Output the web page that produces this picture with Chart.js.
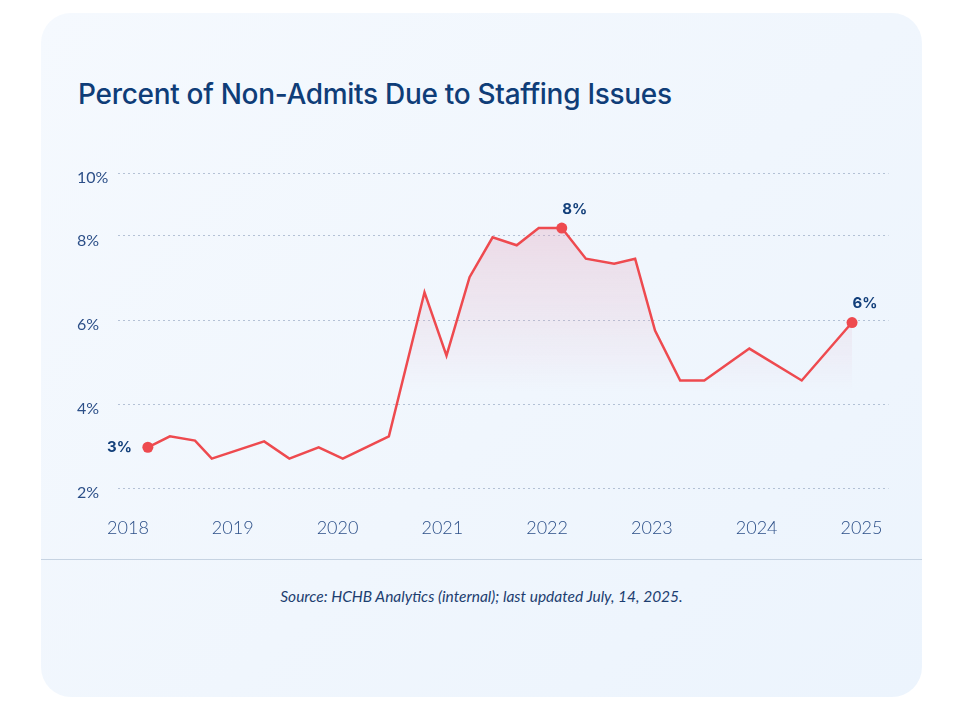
<!DOCTYPE html>
<html>
<head>
<meta charset="utf-8">
<script src="https://cdn.jsdelivr.net/npm/chart.js@4"></script>
<style>
  html, body { margin: 0; padding: 0; background: #ffffff; }
  body { width: 960px; height: 712px; position: relative; overflow: hidden; font-family: Lato, "Open Sans", sans-serif; }
  .card {
    position: absolute; left: 41px; top: 13px; width: 881px; height: 684px;
    border-radius: 30px;
    background: linear-gradient(135deg, #f5f9fe 0%, #f0f6fd 55%, #ecf4fd 100%);
  }
  .title {
    position: absolute; left: 78px; top: 77px; margin: 0;
    font-family: Inter, sans-serif;
    font-size: 28px; font-weight: 500; color: #0f3d78; letter-spacing: -0.3px;
  }
  .rule { position: absolute; left: 41px; top: 559px; width: 881px; height: 1px; background: #c6d3e2; }
  .source {
    position: absolute; left: 41px; width: 881px; top: 587px; text-align: center;
    font-size: 15.5px; font-style: italic; color: #1d3e70;
  }
  .wrap { position: absolute; left: 77px; top: 150px; width: 817px; height: 400px; }
</style>
</head>
<body>
<div class="card"></div>
<h1 class="title">Percent of Non-Admits Due to Staffing Issues</h1>
<div class="wrap"><canvas id="chart"></canvas></div>
<div class="rule"></div>
<div class="source">Source: HCHB Analytics (internal); last updated July, 14, 2025.</div>
<script>
// points along the timeline (fractional years) and their percent values
const periods = [2018.19, 2018.40, 2018.64, 2018.80, 2019.30, 2019.54, 2019.82, 2020.05,
  2020.49, 2020.83, 2021.04, 2021.26, 2021.48, 2021.71, 2021.92, 2022.14,
  2022.37, 2022.64, 2022.84, 2023.03, 2023.27, 2023.50, 2023.93, 2024.43, 2024.91];
const nonAdmitPct = [2.97, 3.23, 3.13, 2.70, 3.11, 2.70, 2.97, 2.70,
  3.23, 6.66, 5.15, 7.02, 7.97, 7.78, 8.19, 8.19,
  7.46, 7.34, 7.46, 5.75, 4.56, 4.56, 5.32, 4.56, 5.94];

const yearTicks = [2018, 2019, 2020, 2021, 2022, 2023, 2024, 2025];
const pctTickValues = [2, 4, 6, 8, 9.5];
const pctTickLabels = ['2%', '4%', '6%', '8%', '10%'];

// called-out points: index into the series and the text shown
const calloutIdx = [0, 15, 24];
const calloutText = ['3%', '8%', '6%'];

const RED = '#ee4a4f';
const NAVY = '#123f7a';

const calloutPlugin = {
  id: 'callouts',
  afterDatasetsDraw(chart) {
    const ctx = chart.ctx;
    const meta = chart.getDatasetMeta(0);
    ctx.save();
    ctx.font = '700 15px Inter, sans-serif';
    ctx.fillStyle = NAVY;
    ctx.textBaseline = 'middle';
    calloutIdx.forEach((idx, i) => {
      const pt = meta.data[idx];
      if (i === 0) {
        ctx.textAlign = 'right';
        ctx.fillText(calloutText[i], pt.x - 16, pt.y);
      } else {
        ctx.textAlign = 'center';
        ctx.fillText(calloutText[i], pt.x + 13, pt.y - 19);
      }
    });
    ctx.restore();
  }
};

new Chart(document.getElementById('chart'), {
  type: 'line',
  data: {
    datasets: [{
      data: periods.map((p, i) => ({ x: p, y: nonAdmitPct[i] })),
      borderColor: RED,
      borderWidth: 2.5,
      tension: 0,
      fill: 'start',
      backgroundColor(context) {
        const { chart } = context;
        const area = chart.chartArea;
        if (!area) return 'transparent';
        const yScale = chart.scales.y;
        const g = chart.ctx.createLinearGradient(0, yScale.getPixelForValue(8.2), 0, yScale.getPixelForValue(4.3));
        g.addColorStop(0, 'rgba(225, 160, 185, 0.32)');
        g.addColorStop(0.55, 'rgba(225, 160, 185, 0.16)');
        g.addColorStop(1, 'rgba(225, 160, 185, 0)');
        return g;
      },
      pointRadius: nonAdmitPct.map((_, i) => calloutIdx.includes(i) ? 5.5 : 0),
      pointBackgroundColor: RED,
      pointBorderWidth: 0,
      pointHoverRadius: 0
    }]
  },
  options: {
    responsive: true,
    maintainAspectRatio: false,
    animation: false,
    layout: { padding: { top: 23, right: 0, left: 0, bottom: 0 } },
    plugins: { legend: { display: false }, tooltip: { enabled: false } },
    scales: {
      x: {
        type: 'linear',
        min: 2017.905,
        max: 2025.258,
        afterBuildTicks(scale) { scale.ticks = yearTicks.map(v => ({ value: v })); },
        afterFit(scale) {
          scale.height = 62;
          scale.paddingLeft = 0;
          scale.paddingRight = 0;
        },
        grid: { display: false, drawTicks: false },
        border: { display: false },
        ticks: {
          padding: 29,
          color: '#2c4f88',
          font: { family: 'Lato, sans-serif', size: 18, weight: 300 },
          callback: v => String(v),
          maxRotation: 0
        }
      },
      y: {
        min: 2,
        max: 9.5,
        afterBuildTicks(scale) { scale.ticks = pctTickValues.map(v => ({ value: v })); },
        afterFit(scale) { scale.width = 41; },
        grid: { color: 'rgba(130, 150, 180, 0.55)', lineWidth: 1, drawTicks: false },
        border: { display: false, dash: [2, 3] },
        ticks: {
          crossAlign: 'far',
          padding: 8,
          color: '#2c4f88',
          font: { family: 'Lato, sans-serif', size: 16, weight: 400, lineHeight: '9px' },
          // blank first line nudges each label a little below its grid line, as in the original
          callback: (v, i) => ['', pctTickLabels[i]]
        }
      }
    }
  },
  plugins: [calloutPlugin]
});
</script>
</body>
</html>
